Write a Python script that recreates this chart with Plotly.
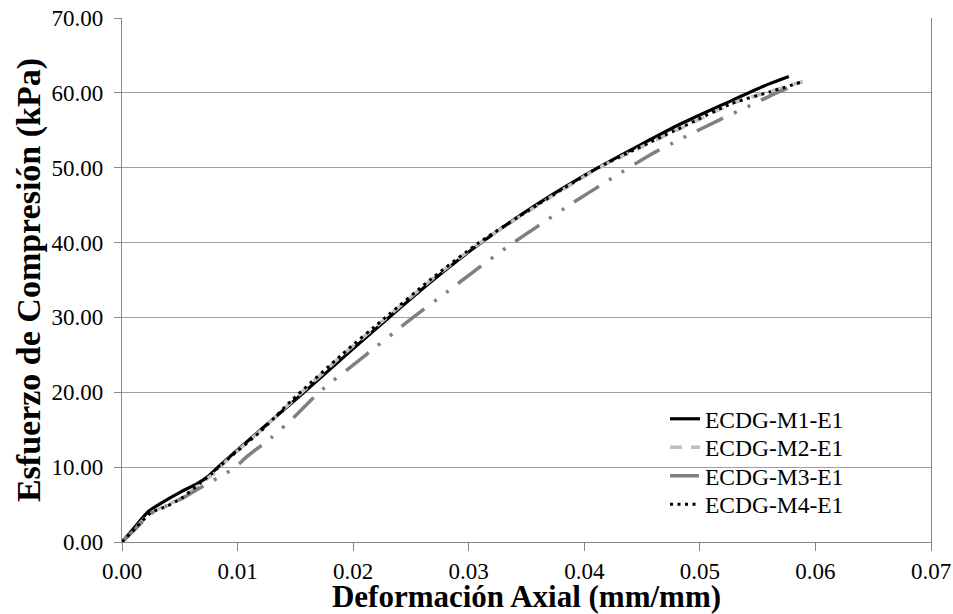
import plotly.graph_objects as go

# ---- data ----
m1_strain = [0, 0.0010, 0.0023, 0.0035, 0.0051, 0.0065, 0.0074, 0.0083, 0.0120, 0.01575,
             0.0194, 0.0231, 0.0270, 0.0311, 0.0360, 0.0412, 0.0484, 0.0528, 0.0560, 0.0577]
m1_stress = [0, 1.8, 4.1, 5.3, 6.7, 7.8, 8.7, 10.0, 15.0, 20.0,
             25.0, 30.0, 35.1, 40.0, 45.2, 50.0, 55.9, 59.0, 61.2, 62.2]

m2_strain = [0, 0.0012, 0.0024, 0.0038, 0.0052, 0.0068, 0.0079, 0.0090, 0.0120, 0.0150,
             0.0191, 0.0229, 0.0269, 0.0310, 0.0361, 0.0413, 0.0488, 0.0530, 0.0563, 0.0591]
m2_stress = [0, 1.9, 3.8, 4.9, 5.9, 7.8, 9.1, 10.8, 14.9, 19.2,
             25.0, 30.0, 35.2, 40.0, 45.1, 50.0, 55.6, 58.7, 60.3, 61.6]

m3_strain = [0, 0.0012, 0.0024, 0.0038, 0.0053, 0.0075, 0.0087, 0.0098, 0.0108, 0.0129,
             0.0149, 0.01705, 0.02095, 0.0251, 0.0282, 0.0304, 0.0335, 0.0358, 0.0390, 0.0425,
             0.0458, 0.0483, 0.0517, 0.0542, 0.0565, 0.0579]
m3_stress = [0, 1.8, 3.7, 4.8, 5.9, 7.9, 8.9, 10.0, 11.4, 13.9,
             16.7, 20.0, 24.8, 29.9, 33.5, 36.1, 39.6, 42.0, 45.3, 48.7,
             51.8, 53.8, 56.4, 58.2, 59.9, 60.8]

m4_strain = [0, 0.0012, 0.0025, 0.0039, 0.0051, 0.0068, 0.0078, 0.0091, 0.0120, 0.0146,
             0.0190, 0.0228, 0.0268, 0.0309, 0.0360, 0.0412, 0.0487, 0.0528, 0.0560, 0.0587]
m4_stress = [0, 1.9, 3.9, 4.8, 5.8, 7.9, 9.2, 11.0, 14.8, 18.8,
             25.0, 30.0, 35.2, 40.0, 45.1, 50.0, 55.6, 58.6, 60.1, 61.4]

series_names = ["ECDG-M1-E1", "ECDG-M2-E1", "ECDG-M3-E1", "ECDG-M4-E1"]
x_ticks = [0, 0.01, 0.02, 0.03, 0.04, 0.05, 0.06, 0.07]
y_ticks = [0, 10, 20, 30, 40, 50, 60, 70]

FONT = "Liberation Serif, Times New Roman, serif"

fig = go.Figure()
styles = [
    dict(color="#000000", width=3.2, dash="solid"),
    dict(color="#BFBFBF", width=3.5, dash="12px,9px"),
    dict(color="#808080", width=3.5, dash="29px,12px,3px,12px,3px,12px"),
    dict(color="#000000", width=3.0, dash="3px,4.5px"),
]
data = [(m1_strain, m1_stress), (m2_strain, m2_stress), (m3_strain, m3_stress), (m4_strain, m4_stress)]
legend_ids = ["legend", "legend2", "legend3", "legend4"]
for (xs, ys), name, st, lid in zip(data, series_names, styles, legend_ids):
    fig.add_trace(go.Scatter(
        x=xs, y=ys, mode="lines", name=name, legend=lid,
        line=dict(color=st["color"], width=st["width"], dash=st["dash"],
                  shape="spline", smoothing=0.6),
    ))

# plot area in pixels: left 122, right 931, top 18, bottom 542
L, R, T, B = 122, 931, 18, 542
W, H = 953, 614

def px_x(p):
    return (p - L) / (R - L)

def px_y(p):
    return (B - p) / (B - T)

leg_x = px_x(665)
row_centers = [419, 447.5, 476, 504.5]
legend_common = dict(
    bgcolor="rgba(255,255,255,0)", borderwidth=0,
    font=dict(family=FONT, size=23.5, color="#000000"),
    xanchor="left", yanchor="middle", x=leg_x,
)
layout_legends = {}
for lid, yc in zip(legend_ids, row_centers):
    layout_legends[lid] = dict(legend_common, y=px_y(yc))

fig.update_layout(
    width=W, height=H,
    margin=dict(l=L, r=W - R, t=T, b=H - B, autoexpand=False),
    paper_bgcolor="white", plot_bgcolor="white",
    font=dict(family=FONT, size=23, color="#000000"),
    showlegend=True,
    **layout_legends,
    shapes=[dict(type="rect", xref="paper", yref="paper",
                 x0=px_x(612), x1=px_x(917), y0=px_y(522), y1=px_y(402),
                 fillcolor="white", line=dict(width=0), layer="between")],
)

fig.update_xaxes(
    range=[0, 0.07], tickvals=x_ticks, tickformat=".2f", automargin=False,
    showgrid=False, zeroline=False,
    showline=True, linecolor="#868686", linewidth=1.3,
    ticks="outside", ticklen=8, tickcolor="#868686", tickwidth=1.3,
    tickfont=dict(family=FONT, size=23, color="#000000"),
    title=dict(text="<b>Deformación Axial (mm/mm)</b>",
               font=dict(family=FONT, size=31, color="#000000"), standoff=5),
)
fig.update_yaxes(
    range=[0, 70], tickvals=y_ticks, tickformat=".2f", automargin=False,
    showgrid=True, gridcolor="#A0A0A0", gridwidth=1.3, zeroline=False,
    showline=True, linecolor="#868686", linewidth=1.3, mirror=True,
    ticks="outside", ticklen=7, tickcolor="#868686", tickwidth=1.3,
    ticklabelstandoff=6,
    tickfont=dict(family=FONT, size=23, color="#000000"),
    title=dict(text="<b>Esfuerzo de Compresión (kPa)</b>",
               font=dict(family=FONT, size=34, color="#000000"), standoff=0),
)

fig.write_html("out.html",
               config={"displayModeBar": False},
               post_script="document.body.style.margin='0';document.body.style.overflow='hidden';")
